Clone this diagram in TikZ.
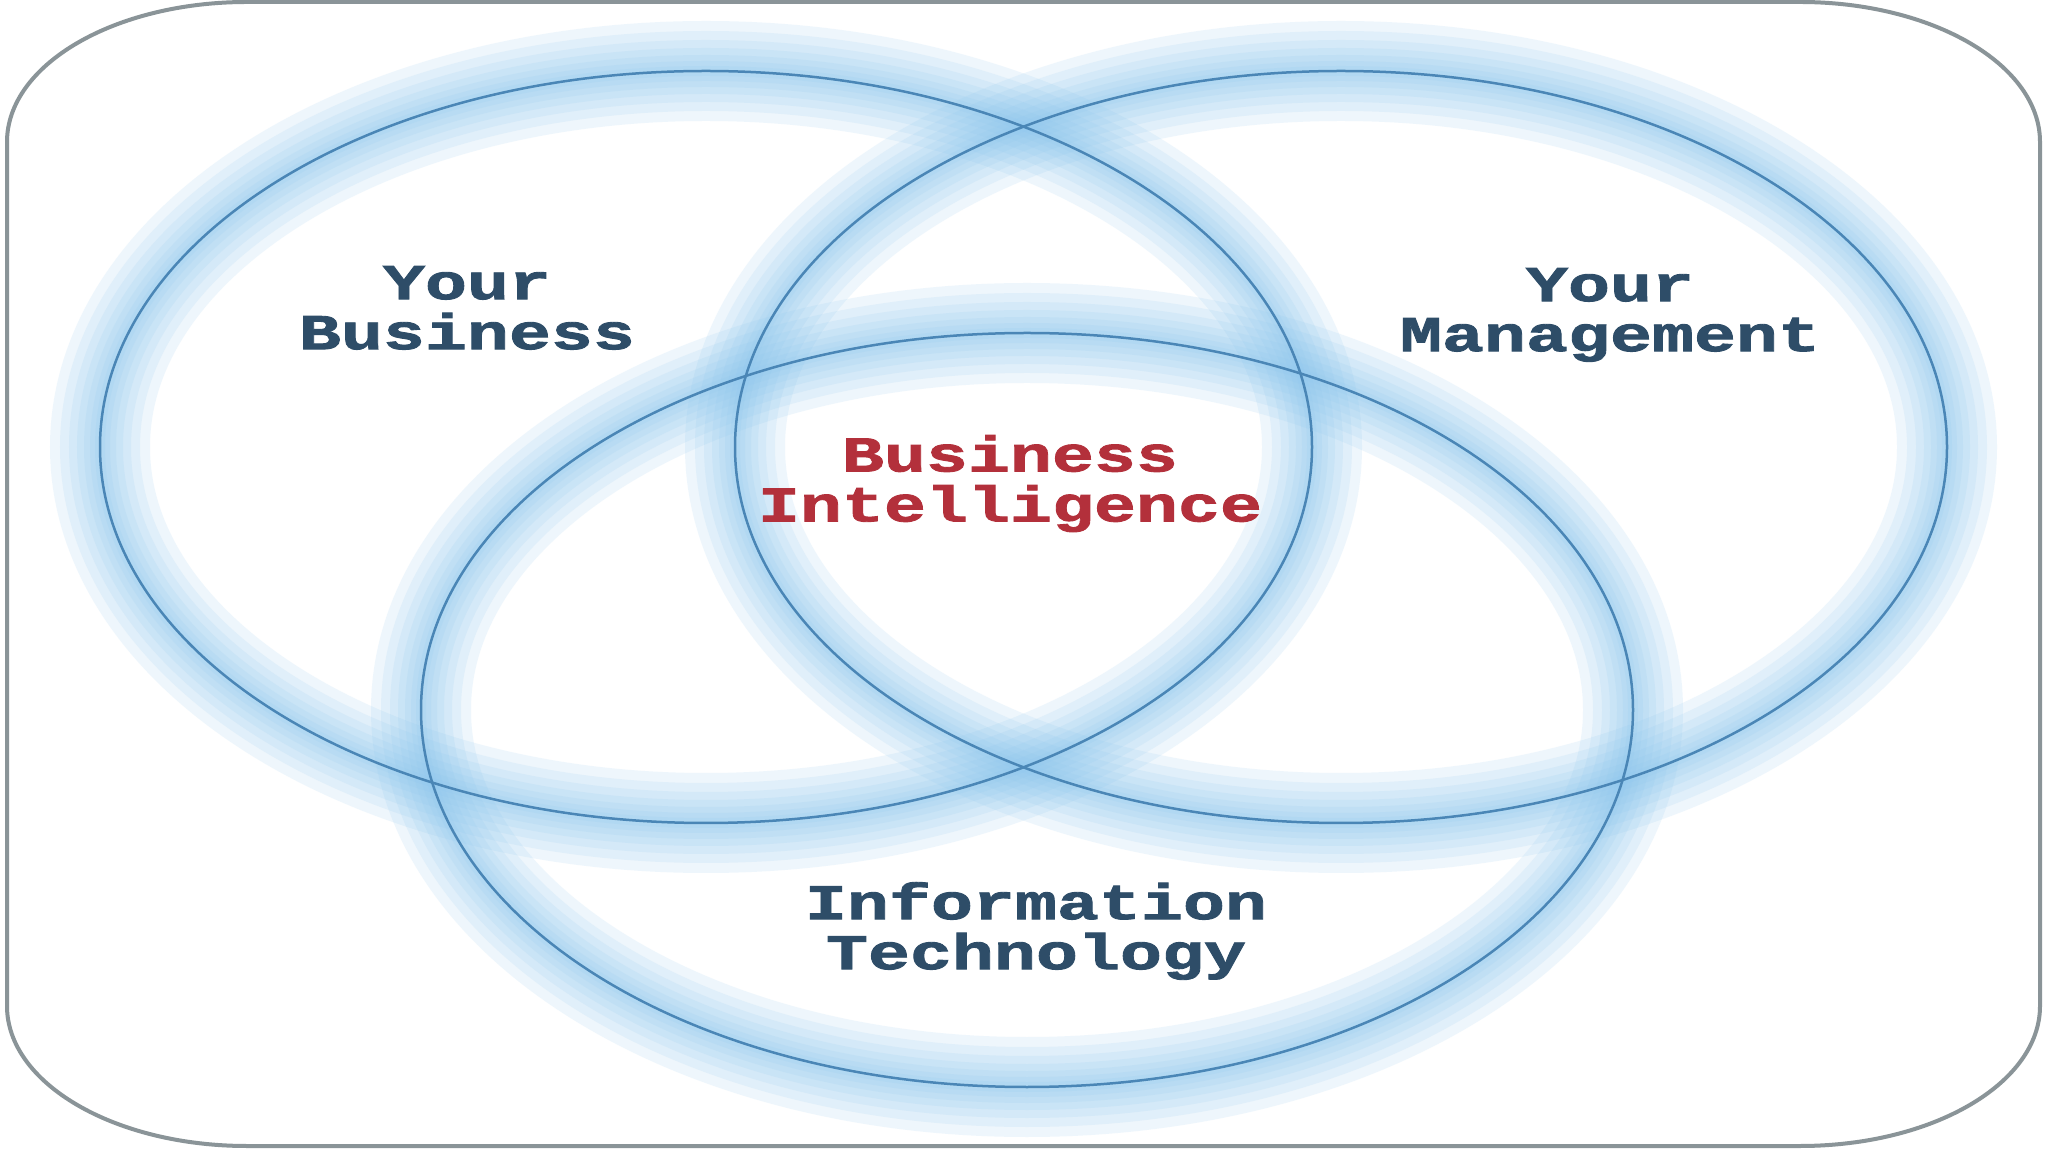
\documentclass[tikz,border=0pt]{standalone}
\usepackage{fontspec}
\newfontfamily\lblfont{Liberation Mono Bold}[FakeStretch=1.4,FakeBold=1.8]
\definecolor{halo}{HTML}{8CC6EE}
\definecolor{ringline}{HTML}{4A86B6}
\definecolor{framegray}{HTML}{8A9498}
\definecolor{lbltext}{HTML}{2E4D68}
\definecolor{bired}{HTML}{B3303B}
\tikzset{
  ringglow/.style={draw=halo,line width=#1,opacity=0.14},
  ringcore/.style={draw=ringline,line width=2.5pt},
  lbl/.style={font=\lblfont\fontsize{50}{50}\selectfont,text=lbltext,align=center,inner sep=0pt,anchor=north},
}
\begin{document}
\begin{tikzpicture}[x=1pt,y=1pt]
\useasboundingbox (0,0) rectangle (2048,1152);
\fill[white] (0,0) rectangle (2048,1152);
% frame
\draw[framegray,line width=4pt] (247,6) -- (1800,6)
  arc[start angle=270,end angle=360,x radius=240,y radius=140]
  -- (2040,1010)
  arc[start angle=0,end angle=90,x radius=240,y radius=140]
  -- (247,1150)
  arc[start angle=90,end angle=180,x radius=240,y radius=140]
  -- (7,146)
  arc[start angle=180,end angle=270,x radius=240,y radius=140] -- cycle;
% ring centres
\coordinate (cL) at (706,705);
\coordinate (cR) at (1341,705);
\coordinate (cB) at (1027,442);
% glows
\foreach \c/\ry in {cL/376,cR/376,cB/377}{
  \foreach \w in {100,80,62,46,32,20,10}{
    \draw[ringglow=\w pt] (\c) ellipse[x radius=606,y radius=\ry];
  }
}
% core lines
\draw[ringcore] (cL) ellipse[x radius=606,y radius=376];
\draw[ringcore] (cR) ellipse[x radius=606,y radius=376];
\draw[ringcore] (cB) ellipse[x radius=606,y radius=377];
% labels
\node[lbl] (yb) at (467,886) {Your\\Business};
\node[lbl] (ym) at (1610,884) {Your\\Management};
\node[lbl,text=bired] (bi) at (1010,717) {Business\\Intelligence};
\node[lbl] (it) at (1036,270) {Information\\Technology};
\end{tikzpicture}
\end{document}
